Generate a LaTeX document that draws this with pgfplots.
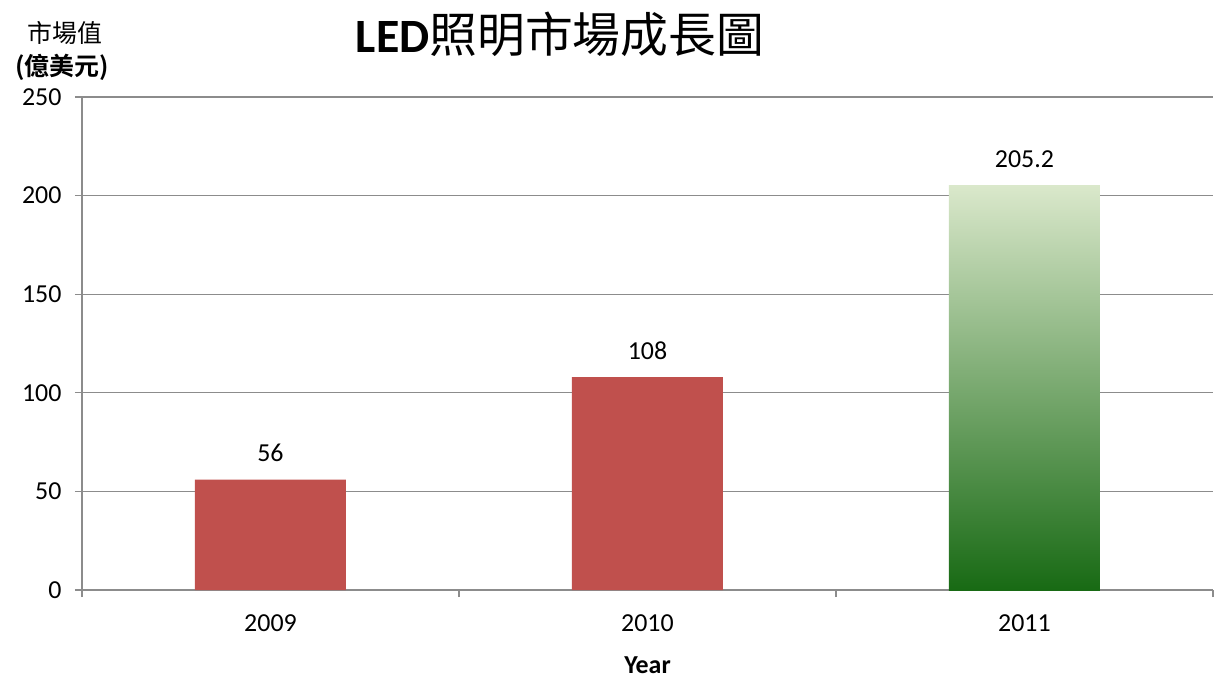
\documentclass[border=0pt]{standalone}
\usepackage{pgfplots}
\pgfplotsset{compat=1.18}
\usepackage{fontspec}
\setmainfont{Carlito}
\newfontfamily\cjk{Noto Sans CJK TC}
\newfontfamily\cjkb{Noto Sans CJK TC Bold}

\definecolor{barred}{HTML}{C0504D}
\definecolor{gtop}{HTML}{DAE8CB}
\definecolor{gmid}{HTML}{9BBB59}
\definecolor{gbot}{HTML}{186A14}
\definecolor{gridgray}{HTML}{8C8C8C}

\begin{document}
\begin{tikzpicture}
\begin{axis}[
    at={(0,0)}, anchor=south west,
    scale only axis,
    width=1131bp, height=493bp,
    ymin=0, ymax=250,
    xmin=-0.5, xmax=2.5,
    ytick={0,50,...,250},
    xtick={0,1,2},
    xticklabels={2009,2010,2011},
    extra x ticks={-0.5,0.5,1.5,2.5},
    extra x tick labels={},
    extra x tick style={major tick length=7bp, xtick style={draw=gridgray, line width=1.2bp}},
    xtick style={draw=none},
    ytick style={draw=gridgray, line width=1.2bp},
    major tick length=7bp,
    tick align=outside,
    axis x line*=bottom,
    axis y line*=left,
    axis line style={draw=gridgray, line width=1.5bp},
    ymajorgrids,
    major grid style={draw=gridgray, line width=1.2bp},
    ticklabel style={font=\fontsize{26}{30}\selectfont},
    yticklabel style={xshift=-10bp},
    xticklabel style={yshift=-14bp},
    /pgf/number format/assume math mode=true,
    xlabel={\bfseries Year},
    xlabel style={font=\fontsize{26}{30}\selectfont, inner sep=0pt, yshift=-8bp},
    ybar, bar width=151bp, bar shift=0pt,
    nodes near coords,
    nodes near coords style={font=\fontsize{26}{30}\selectfont, anchor=south, yshift=14bp},
]
\addplot[fill=barred, draw=none] coordinates {(0,56) (1,108)};
\addplot[draw=none, top color=gtop, middle color=gmid, bottom color=gbot] coordinates {(2,205.2)};
\end{axis}
\node[anchor=center] at (478bp,556bp) {\fontsize{48}{52}\selectfont{\bfseries LED}\cjk 照明市場成長圖};
\node[anchor=center] at (-17bp,557bp) {\fontsize{25}{28}\selectfont\cjk 市場值};
\node[anchor=center] at (-20bp,523bp) {\fontsize{25}{28}\selectfont\cjkb (億美元)};
\pgfresetboundingbox
\path (-82bp,-84bp) rectangle (1133bp,590bp);
\end{tikzpicture}
\end{document}
